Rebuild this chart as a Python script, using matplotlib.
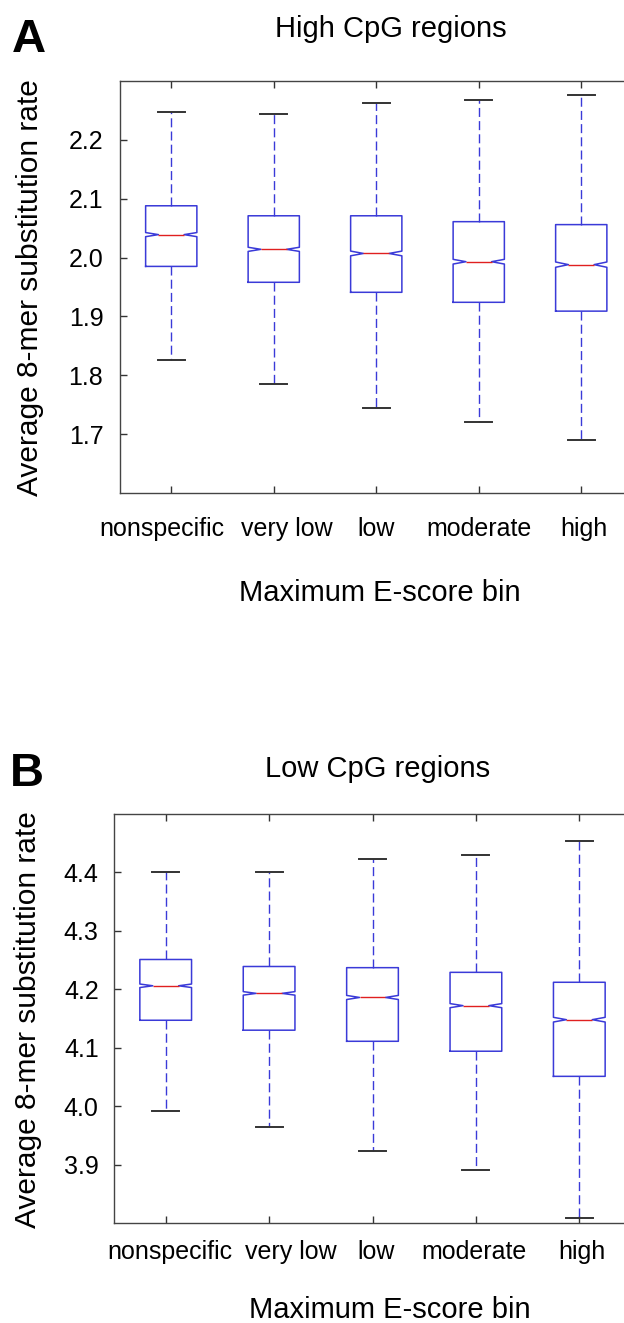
import matplotlib
matplotlib.use("Agg")
import matplotlib.pyplot as plt
from matplotlib.transforms import ScaledTranslation

plt.rcParams["font.family"] = ["Liberation Sans", "DejaVu Sans"]

categories = ["nonspecific", "very low", "low", "moderate", "high"]

# panel A: high CpG regions
a_whislo = [1.826, 1.785, 1.744, 1.720, 1.690]
a_q1 = [1.985, 1.958, 1.941, 1.924, 1.909]
a_med = [2.039, 2.014, 2.007, 1.993, 1.988]
a_q3 = [2.088, 2.071, 2.071, 2.061, 2.056]
a_whishi = [2.247, 2.244, 2.263, 2.268, 2.276]
a_notch = [0.0035, 0.0035, 0.004, 0.004, 0.0045]
a_yticks = [1.7, 1.8, 1.9, 2.0, 2.1, 2.2]

# panel B: low CpG regions
b_whislo = [3.991, 3.964, 3.923, 3.891, 3.809]
b_q1 = [4.147, 4.130, 4.111, 4.094, 4.051]
b_med = [4.206, 4.193, 4.186, 4.172, 4.148]
b_q3 = [4.251, 4.239, 4.237, 4.229, 4.212]
b_whishi = [4.401, 4.401, 4.423, 4.430, 4.454]
b_notch = [0.003, 0.003, 0.0035, 0.0035, 0.004]
b_yticks = [3.9, 4.0, 4.1, 4.2, 4.3, 4.4]

# horizontal nudges (px) of the category labels, as placed in the original figure
a_label_shift = [-9, 13, 0, 0, 3]
b_label_shift = [4, 22, 4, -2, 3]

W, H = 624, 1323
BLUE = "#3a3ad8"
DARK = "#333333"


def px_box(left, top, right, bottom):
    return [left / W, 1 - bottom / H, (right - left) / W, (bottom - top) / H]


def make_stats(whislo, q1, med, q3, whishi, notch):
    stats = []
    for i in range(len(med)):
        stats.append(dict(whislo=whislo[i], q1=q1[i], med=med[i], q3=q3[i], whishi=whishi[i],
                          cilo=med[i] - notch[i], cihi=med[i] + notch[i], fliers=[]))
    return stats


def draw_panel(ax, stats, ylim, yticks, xpad, ypad, shifts):
    ax.bxp(stats, positions=range(1, len(stats) + 1), widths=0.5, capwidths=0.26,
           shownotches=True, showfliers=False,
           boxprops=dict(color=BLUE, linewidth=1.1),
           whiskerprops=dict(color=BLUE, linewidth=1.0, linestyle=(0, (6.5, 3))),
           capprops=dict(color=DARK, linewidth=1.4),
           medianprops=dict(color="#e02020", linewidth=1.0))
    ax.set_xlim(0.5, len(stats) + 0.5)
    ax.set_ylim(*ylim)
    ax.set_yticks(yticks)
    ax.set_yticklabels([f"{t:.1f}" for t in yticks])
    ax.set_xticks(range(1, len(stats) + 1))
    ax.set_xticklabels(categories)
    ax.tick_params(direction="in", length=5, width=1, color=DARK, labelsize=18, top=True, right=False)
    ax.tick_params(axis="x", pad=xpad)
    ax.tick_params(axis="y", pad=ypad)
    for label, dx in zip(ax.get_xticklabels(), shifts):
        label.set_transform(label.get_transform() + ScaledTranslation(dx / 100, 0, fig.dpi_scale_trans))
    for side in ["left", "bottom", "top"]:
        ax.spines[side].set_color("#444444")
        ax.spines[side].set_linewidth(1.0)
    ax.spines["right"].set_visible(False)


fig = plt.figure(figsize=(W / 100, H / 100), dpi=100)

ax_a = fig.add_axes(px_box(120, 81, 632.5, 493))
draw_panel(ax_a, make_stats(a_whislo, a_q1, a_med, a_q3, a_whishi, a_notch), (1.6, 2.3), a_yticks, 17, 12,
           a_label_shift)

ax_b = fig.add_axes(px_box(114, 814, 631, 1223))
draw_panel(ax_b, make_stats(b_whislo, b_q1, b_med, b_q3, b_whishi, b_notch), (3.8, 4.5), b_yticks, 12, 11,
           b_label_shift)


def ftext(x, y, s, **kw):
    fig.text(x / W, 1 - y / H, s, **kw)


ftext(12, 52, "A", fontsize=34, fontweight="bold", ha="left", va="baseline")
ftext(391, 37, "High CpG regions", fontsize=21, ha="center", va="baseline")
ftext(380, 601, "Maximum E-score bin", fontsize=21, ha="center", va="baseline")
ftext(30, 288, "Average 8-mer substitution rate", fontsize=21.5, rotation=90, ha="center", va="center")

ftext(10, 786, "B", fontsize=34, fontweight="bold", ha="left", va="baseline")
ftext(378, 777, "Low CpG regions", fontsize=21, ha="center", va="baseline")
ftext(390, 1318, "Maximum E-score bin", fontsize=21, ha="center", va="baseline")
ftext(28, 1020, "Average 8-mer substitution rate", fontsize=21.5, rotation=90, ha="center", va="center")

fig.savefig("out.png", dpi=100)
